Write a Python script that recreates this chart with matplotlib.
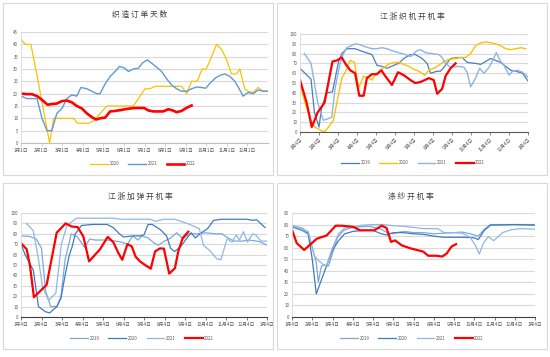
import matplotlib
matplotlib.use("Agg")
import matplotlib.pyplot as plt
from matplotlib.patches import Rectangle

plt.rcParams['font.family'] = ['Noto Sans CJK SC', 'DejaVu Sans']

# ---------------- data (x in months from start of year) ----------------
# 织造订单天数
order_labels = ['%d月1日' % i for i in range(1, 13)]
order_x_2020 = [0, 0.21, 0.48, 0.81, 1.10, 1.39, 1.58, 2.55, 2.75, 3.28, 3.52, 3.85, 4.17, 5.46,
                6.03, 6.27, 6.51, 7.8, 8.05, 8.29, 8.56, 8.80, 9.0, 9.26, 9.5, 9.74, 9.98, 10.22,
                10.47, 10.63, 10.87, 11.03, 11.28, 11.52, 11.76, 12.0]
order_2020 = [42, 40, 40, 26, 13, 0, 10, 10, 8, 8, 9, 12, 15, 15, 22, 22, 23, 23, 20, 25, 25, 30,
              30, 35, 40, 38, 34, 28, 28, 30, 22, 21, 20.5, 22.5, 21, 21]
order_x_2021 = [0, 0.29, 0.78, 1.02, 1.26, 1.50, 1.74, 1.99, 2.23, 2.47, 2.71, 2.91, 3.20, 3.44,
                3.68, 3.84, 4.09, 4.33, 4.57, 4.78, 5.01, 5.22, 5.46, 5.70, 5.91, 6.14, 6.40, 6.62,
                6.83, 7.08, 7.32, 7.56, 7.80, 8.05, 8.29, 8.53, 8.77, 8.98, 9.21, 9.47, 9.69, 9.90,
                10.15, 10.39, 10.60, 10.79, 11.03, 11.28, 11.52, 11.76, 12.0]
order_2021 = [19, 18, 18, 10, 5, 5, 12, 14, 18, 19.5, 19, 22.5, 22, 21, 20, 20, 24, 27, 29, 31,
              30.5, 29, 30, 30.3, 32.5, 33.7, 32, 30.5, 29, 26, 23.5, 22, 21, 21, 22, 22.7, 22.5,
              22.2, 24.5, 26.5, 27.5, 28, 27, 25, 22, 19, 20.5, 20, 21.5, 21, 21]
order_x_2022 = [0.05, 0.29, 0.53, 0.78, 1.02, 1.29, 1.50, 1.74, 1.99, 2.23, 2.47, 2.71, 2.96, 3.20,
                3.44, 3.65, 3.84, 4.09, 4.33, 4.57, 4.81, 5.06, 5.30, 5.54, 5.78, 5.98, 6.19, 6.43,
                6.67, 6.91, 7.16, 7.37, 7.56, 7.80, 8.05, 8.29]
order_2022 = [20, 19.8, 19.8, 19, 17.5, 15.5, 15.8, 16, 17, 17.2, 16.5, 15, 14, 12, 10.5, 9.5, 10,
              10.3, 12.8, 13, 13.3, 13.7, 14, 14.2, 14.2, 14.2, 13.2, 12.8, 12.8, 12.8, 13.7, 13.2,
              12.5, 13, 14.3, 15.2]

# 江浙织机开机率
week_labels = ['%d月4日' % i for i in range(1, 13)] + ['1月4日']
loom_x_2019 = [0, 0.26, 0.58, 0.76, 1.0, 1.14, 1.41, 1.71, 2.03, 2.20, 2.46, 2.90, 3.17, 3.47, 3.79,
               4.05, 4.31, 4.58, 4.93, 5.19, 5.46, 5.81, 6.07, 6.43, 6.69, 6.87, 7.22, 7.39, 7.57,
               7.92, 8.27, 8.54, 8.80, 9.24, 9.51, 9.77, 10.04, 10.30, 10.56, 10.83, 11.09, 11.36,
               11.71, 12.0]
loom_2019 = [65, 60, 54, 20, 5, 25, 40, 41, 72, 80, 85, 85, 83, 81, 79, 68, 67, 65, 68, 70, 75, 79,
             79, 75, 70, 60, 62, 62, 66, 75, 76, 76, 71, 70, 69, 72, 75, 73, 71, 67, 63, 62, 60, 52]
loom_x_2020 = [0, 0.26, 0.62, 0.79, 1.06, 1.29, 1.50, 1.76, 1.94, 2.20, 2.41, 2.64, 2.87, 3.08,
               3.35, 3.61, 3.79, 3.96, 4.23, 4.49, 4.75, 5.02, 5.19, 5.46, 5.72, 5.99, 6.25, 6.57,
               6.78, 7.04, 7.31, 7.57, 7.83, 8.19, 8.45, 8.71, 8.98, 9.24, 9.51, 9.77, 10.04, 10.30,
               10.56, 10.83, 11.09, 11.36, 11.62, 11.88]
loom_2020 = [50, 30, 10, 5, 2, 0, 5, 12, 30, 55, 62, 73, 71, 45, 57, 55, 53, 58, 63, 67, 70, 71, 71,
             69, 67, 64, 62, 58, 63, 65, 68, 72, 74, 75, 76, 76, 80, 88, 91, 92, 91, 90, 88, 85, 84,
             85, 86, 85]
loom_x_2021 = [0.23, 0.58, 0.76, 0.93, 1.23, 1.41, 1.67, 1.85, 2.11, 2.29, 2.46, 2.69, 2.90, 3.17,
               3.43, 3.79, 4.05, 4.31, 4.58, 4.84, 5.19, 5.55, 5.81, 6.16, 6.34, 6.60, 6.95, 7.31,
               7.48, 7.66, 7.92, 8.36, 8.63, 8.80, 8.98, 9.24, 9.45, 9.68, 9.95, 10.12, 10.33, 10.56,
               10.74, 11.0, 11.18, 11.44, 11.71, 12.0]
loom_2021 = [80, 70, 50, 30, 12, 13, 15, 45, 70, 80, 86, 88, 90, 89, 87, 85, 85, 86, 85, 83, 81, 79,
             77, 83, 84, 81, 80, 79, 76, 70, 66, 67, 66, 61, 46, 55, 65, 60, 66, 72, 81, 72, 68, 58,
             62, 63, 61, 56]
loom_x_2022 = [0, 0.35, 0.62, 0.93, 1.29, 1.71, 1.94, 2.20, 2.38, 2.64, 2.90, 3.12, 3.35, 3.52,
               3.79, 4.05, 4.28, 4.49, 4.84, 5.16, 5.46, 5.81, 6.07, 6.34, 6.57, 6.78, 7.04, 7.22,
               7.48, 7.66, 7.92, 8.19]
loom_2022 = [53, 30, 5, 20, 30, 72, 73, 76, 70, 63, 60, 37, 37, 55, 59, 59, 63, 57, 48, 61, 58, 53,
             50, 51, 53, 55, 53, 39, 44, 57, 65, 70]

# 江浙加弹开机率
dty_x_2019 = [0, 0.4, 0.75, 1.0, 1.2, 1.45, 1.75, 1.95, 2.15, 2.45, 2.75, 3.1, 3.35, 3.6, 4.2, 4.6,
              4.9, 5.2, 5.45, 5.7, 5.9, 6.2, 6.5, 6.7, 7.0, 7.3, 7.6, 7.9, 8.2, 8.6, 9.0, 9.5, 9.8,
              10.1, 10.4, 10.8, 11.1, 11.5, 11.7, 12]
dty_2019 = [78, 77.5, 75, 66, 25, 10, 10, 20, 55, 80, 77, 67, 75, 74, 74, 73, 72, 70, 78, 74, 78,
            76, 71, 69, 73, 76, 81, 75, 80, 80, 81, 80, 80, 76, 73, 73, 74, 73, 72, 69]
dty_x_2020 = [0, 0.2, 0.6, 0.85, 1.2, 1.4, 1.75, 1.95, 2.15, 2.35, 2.5, 2.65, 2.95, 3.5, 4.2, 4.5,
              4.8, 5.0, 5.5, 5.8, 6.0, 6.2, 6.4, 6.8, 7.1, 7.3, 7.5, 7.8, 8.1, 8.3, 8.5, 8.8, 9.1,
              9.4, 9.8, 11.0, 11.3, 11.5, 11.9]
dty_2020 = [70, 60, 45, 10, 5, 4, 10, 18, 40, 59, 68, 80, 88, 89, 89, 86, 80, 77, 78, 78, 79, 89,
            89, 84, 78, 66, 63, 68, 76, 81, 76, 81, 85, 93, 94, 94, 93, 93.5, 86]
dty_x_2021 = [0.26, 0.6, 0.84, 1.05, 1.35, 1.7, 1.97, 2.24, 2.7, 4.5, 4.85, 6.3, 6.55, 6.96, 7.5,
              8.1, 8.4, 8.7, 8.9, 9.2, 9.55, 9.75, 10.05, 10.3, 10.5, 10.65, 10.85, 11.05, 11.3,
              11.45, 11.7, 12]
dty_2021 = [90, 83, 57, 29, 16, 23, 70, 88, 95, 95, 94, 94, 92, 94, 94, 90, 87.5, 85, 69, 64, 56,
            55, 75, 72, 79, 74, 82, 72, 80, 79, 73, 73]
dty_x_2022 = [0, 0.28, 0.44, 0.63, 1.25, 1.74, 2.18, 2.47, 2.76, 3.04, 3.32, 3.85, 4.23, 4.5, 4.75,
              4.94, 5.19, 5.4, 5.59, 5.8, 6.05, 6.33, 6.54, 6.78, 6.97, 7.23, 7.51, 7.67, 7.89, 8.16]
dty_2022 = [71, 65, 49, 19, 31, 81, 90, 87, 86.5, 77.5, 53.5, 65, 77, 72, 61.5, 55, 70, 68, 58,
            53.5, 50, 46.5, 63, 66, 65.7, 41.7, 47, 63, 76, 82]

# 涤纱开机率
yarn_x_2019 = [0, 0.5, 0.75, 1.0, 1.2, 1.3, 1.45, 1.6, 1.8, 2.05, 2.25, 2.55, 2.9, 3.3, 3.8, 4.4,
               4.7, 5.0, 5.3, 5.6, 6.0, 6.5, 7.0, 7.5, 8.0, 8.4, 8.8, 9.2, 9.5, 9.8, 12]
yarn_2019 = [79, 77, 74, 60, 47, 30, 44, 45, 44, 58, 69, 75, 77, 78, 78.5, 76, 73, 72, 73.5, 74,
             73, 73, 72, 72.5, 73, 73.5, 72, 70, 76, 80, 80]
yarn_x_2020 = [0, 0.5, 0.8, 1.0, 1.2, 1.45, 1.7, 2.0, 2.3, 2.6, 3.0, 3.5, 4.0, 4.4, 4.7, 5.0, 5.5,
               6.0, 6.5, 7.0, 7.5, 8.0, 8.5, 9.0, 9.2, 9.5, 9.8, 11, 12]
yarn_2020 = [78, 75, 72, 50, 20, 32, 44, 58, 66, 72, 74, 75, 75, 72, 71, 73, 73, 72, 71.5, 70, 69,
             69, 69, 68.5, 67, 75, 79.5, 80, 79.5]
yarn_x_2021 = [0, 0.4, 0.8, 0.95, 1.1, 1.3, 1.5, 1.7, 2.0, 2.3, 2.6, 3.0, 3.5, 4.0, 4.5, 5.0, 5.5,
               6.0, 6.5, 7.0, 7.2, 7.5, 8.0, 8.4, 8.8, 9.05, 9.25, 9.45, 9.7, 9.95, 10.15, 10.4,
               10.8, 11.3, 12]
yarn_2021 = [79, 77, 74, 64, 53, 49, 46, 44, 60, 72, 77, 78, 79.5, 80, 80, 79, 78.5, 77.5, 76.5,
             76.5, 76.5, 73, 73, 72.5, 69, 62, 54.5, 64, 69.5, 66, 69, 73, 75.5, 76.5, 76]
yarn_x_2022 = [0, 0.23, 0.6, 1.22, 1.71, 2.16, 2.46, 3.03, 3.36, 4.06, 4.43, 4.67, 4.89, 5.09, 5.42,
               5.83, 6.48, 6.73, 7.14, 7.42, 7.64, 7.88, 8.1]
yarn_2022 = [75.5, 64, 58, 67.7, 70.6, 79, 79, 78, 75, 75, 79, 77, 65, 66.3, 62, 59.5, 56.6, 53, 53,
             52.3, 55, 61, 63]

TXT = '#595959'
GRID = '#D9D9D9'


def style(ax, ymax, ystep, labels, ticks, rot=0, xline='#BFBFBF'):
    ax.set_xlim(0, 12)
    ax.set_ylim(0, ymax)
    ax.set_yticks(range(0, ymax + 1, ystep))
    ax.yaxis.grid(True, color=GRID, lw=0.8)
    ax.set_axisbelow(True)
    ax.set_xticks(ticks)
    if rot:
        ax.set_xticklabels(labels, rotation=rot, ha='right', va='top', rotation_mode='anchor')
    else:
        ax.set_xticklabels(labels)
    for s in ['top', 'right']:
        ax.spines[s].set_visible(False)
    ax.spines['left'].set_color('#D9D9D9')
    ax.spines['left'].set_linewidth(0.6)
    ax.spines['bottom'].set_color(xline)
    ax.spines['bottom'].set_linewidth(0.8)
    ax.tick_params(axis='y', length=0, labelsize=3.2, labelcolor=TXT, pad=2)
    ax.tick_params(axis='x', length=2, width=0.5, color=xline, labelsize=3.4, labelcolor=TXT, pad=1.5)


def legend(ax, x, y):
    ax.legend(loc='center', bbox_to_anchor=(x, y), bbox_transform=fig.transFigure, ncol=4,
              frameon=False, fontsize=3.2, labelcolor=TXT, handlelength=4, handletextpad=0.4,
              columnspacing=2.0)


def title(x, y, s):
    fig.text(x / 550, 1 - y / 357, ' '.join(s), ha='center', va='center', fontsize=5.6,
             color='#404040')


fig = plt.figure(figsize=(5.5, 3.57), dpi=100)

# panel borders
for (x0, y0, x1, y1) in [(3, 3, 273, 175), (277, 3, 547, 175), (3, 183, 273, 349), (277, 183, 547, 349)]:
    fig.patches.append(Rectangle((x0 / 550, 1 - y1 / 357), (x1 - x0) / 550, (y1 - y0) / 357,
                                 transform=fig.transFigure, fill=False, ec='#D9D9D9', lw=0.8))

# ---- panel 1 ----
ax1 = fig.add_axes([21 / 550, 1 - 143 / 357, 247 / 550, 111 / 357])
ax1.plot(order_x_2020, order_2020, color='#FFC000', lw=0.9, label='2020')
ax1.plot(order_x_2021, order_2021, color='#5B9BD5', lw=1.0, label='2021')
ax1.plot(order_x_2022, order_2022, color='#FF0000', lw=1.9, label='2022')
style(ax1, 45, 5, order_labels, range(12))
legend(ax1, 143 / 550, 1 - 164 / 357)
title(140, 15, '织造订单天数')

# ---- panel 2 ----
ax2 = fig.add_axes([300 / 550, 1 - 132 / 357, 228 / 550, 98 / 357])
ax2.plot(loom_x_2019, loom_2019, color='#4A7EBB', lw=0.9, label='2019')
ax2.plot(loom_x_2020, loom_2020, color='#FFC000', lw=1.0, label='2020')
ax2.plot(loom_x_2021, loom_2021, color='#8EB4E3', lw=1.0, label='2021')
ax2.plot(loom_x_2022, loom_2022, color='#FF0000', lw=1.6, label='2022')
style(ax2, 100, 10, week_labels, range(13), rot=45, xline='#595959')
legend(ax2, 413 / 550, 1 - 163 / 357)
title(412, 17, '江浙织机开机率')

# ---- panel 3 ----
ax3 = fig.add_axes([21 / 550, 1 - 317 / 357, 246 / 550, 104 / 357])
ax3.plot(dty_x_2019, dty_2019, color='#7FA8DA', lw=0.9, label='2019')
ax3.plot(dty_x_2020, dty_2020, color='#3E7CC0', lw=0.9, label='2020')
ax3.plot(dty_x_2021, dty_2021, color='#8DB8E6', lw=0.9, label='2021')
ax3.plot(dty_x_2022, dty_2022, color='#FF0000', lw=1.6, label='2022')
style(ax3, 100, 10, week_labels, range(13), xline='#404040')
legend(ax3, 142 / 550, 1 - 338 / 357)
title(140, 197, '江浙加弹开机率')

# ---- panel 4 ----
ax4 = fig.add_axes([292 / 550, 1 - 317 / 357, 243 / 550, 104 / 357])
ax4.plot(yarn_x_2019, yarn_2019, color='#7FA8DA', lw=0.9, label='2019')
ax4.plot(yarn_x_2020, yarn_2020, color='#3E7CC0', lw=0.9, label='2020')
ax4.plot(yarn_x_2021, yarn_2021, color='#8DB8E6', lw=0.9, label='2021')
ax4.plot(yarn_x_2022, yarn_2022, color='#FF0000', lw=1.6, label='2022')
style(ax4, 90, 10, week_labels, range(13), xline='#404040')
legend(ax4, 412 / 550, 1 - 338 / 357)
title(411, 197, '涤纱开机率')

fig.savefig('out.png', dpi=100)
